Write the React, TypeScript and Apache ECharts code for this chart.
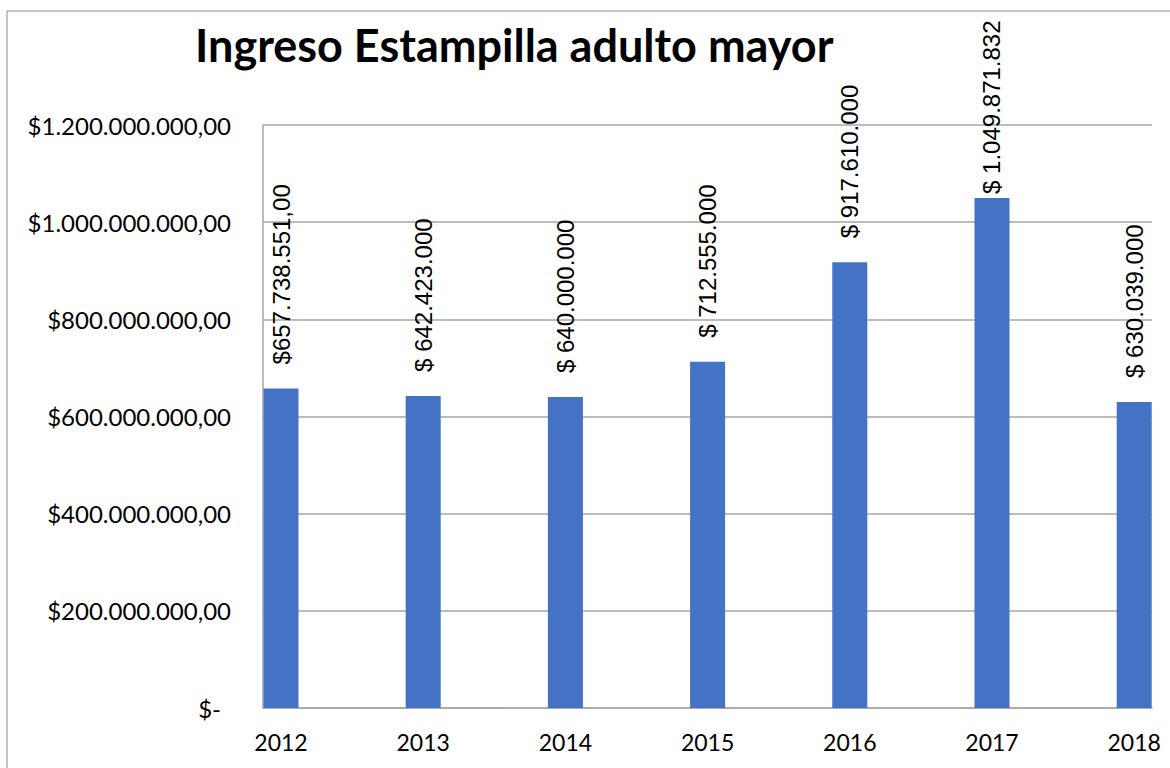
import React, { useEffect, useRef } from "react";
import * as echarts from "echarts";

const years = [2012, 2013, 2014, 2015, 2016, 2017, 2018];
const values = [657738551, 642423000, 640000000, 712555000, 917610000, 1049871832, 630039000];
const labelTexts = [
  "$657.738.551,00",
  "$ 642.423.000",
  "$ 640.000.000",
  "$ 712.555.000",
  "$ 917.610.000",
  "$ 1.049.871.832",
  "$ 630.039.000",
];
const labelDistances = [24, 24, 24, 24, 24, 4, 24];
const title = "Ingreso Estampilla adulto mayor";

function fmtMoney(v: number): string {
  if (v === 0) return "{z|$-}";
  const s = Math.round(v).toString().replace(/\B(?=(\d{3})+(?!\d))/g, ".");
  return "$" + s + ",00";
}

export default function App() {
  const ref = useRef<HTMLDivElement>(null);
  useEffect(() => {
    if (!ref.current) return;
    const chart = echarts.init(ref.current, null, { renderer: "svg" });
    chart.setOption({
      animation: false,
      backgroundColor: "#ffffff",
      title: {
        text: title,
        left: 190,
        top: 17,
        textStyle: { fontFamily: "Lato", fontWeight: "bold", fontSize: 45, color: "#000" },
      },
      graphic: [
        {
          type: "rect",
          shape: { x: 7, y: 11, width: 1200, height: 800 },
          style: { fill: "none", stroke: "#8c8c8c", lineWidth: 1 },
          silent: true,
        },
      ],
      grid: { left: 263, right: 18, top: 125, bottom: 60, containLabel: false },
      xAxis: {
        type: "value",
        min: 2011.8734,
        max: 2018.1252,
        splitLine: { show: false },
        axisTick: { show: false },
        axisLine: { show: true, lineStyle: { color: "#a6a6a6", width: 1.5 } },
        axisLabel: {
          customValues: years,
          formatter: (v: number) => String(v),
          fontFamily: "Lato",
          fontSize: 23,
          color: "#000",
          margin: 22,
        },
      },
      yAxis: {
        type: "value",
        min: 0,
        max: 1200000000,
        interval: 200000000,
        axisLine: { show: true, lineStyle: { color: "#a6a6a6", width: 1.5 } },
        axisTick: { show: false },
        splitLine: { show: true, lineStyle: { color: "#a6a6a6", width: 1.5 } },
        axisLabel: {
          formatter: fmtMoney,
          fontFamily: "Lato",
          fontSize: 24,
          color: "#000",
          margin: 32,
          rich: { z: { fontFamily: "Lato", fontSize: 24, color: "#000", padding: [0, 10, 0, 0] } },
        },
      },
      series: [
        {
          type: "bar",
          barWidth: 35,
          itemStyle: { color: "#4472C4" },
          data: years.map((y, i) => ({
            value: [y, values[i]],
            label: { distance: labelDistances[i] },
          })),
          label: {
            show: true,
            position: "top",
            rotate: 90,
            align: "left",
            verticalAlign: "middle",
            fontFamily: "Liberation Sans",
            fontSize: 24,
            color: "#000",
            formatter: (p: any) => labelTexts[p.dataIndex],
          },
        },
      ],
    });
    return () => chart.dispose();
  }, []);
  return (
    <div
      ref={ref}
      style={{ position: "fixed", left: 0, top: 0, width: 1170, height: 768 }}
    />
  );
}
